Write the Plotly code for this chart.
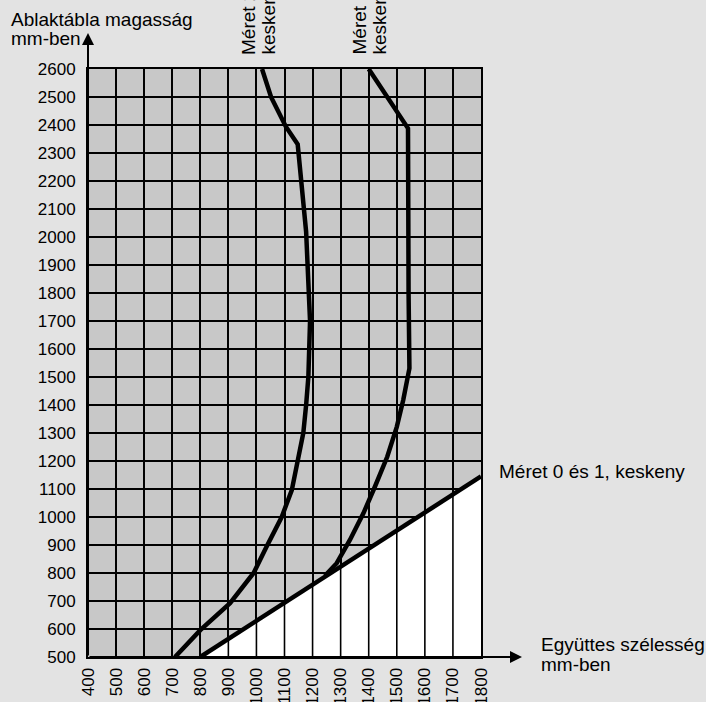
import numpy as np
import plotly.graph_objects as go

# ---- data ----
x_ticks = list(range(400, 1801, 100))
y_ticks = list(range(500, 2601, 100))

curve1_x = [710, 800, 906, 990, 1036, 1090, 1126, 1149, 1167, 1177, 1185, 1191, 1177, 1147, 1105, 1052, 1020]
curve1_y = [500, 596, 692, 800, 894, 1000, 1096, 1204, 1300, 1400, 1500, 1700, 2019, 2331, 2394, 2500, 2600]

curve2_x = [1244, 1286, 1333, 1381, 1422, 1466, 1500, 1523, 1545, 1542, 1540, 1400]
curve2_y = [790, 835, 918, 1013, 1108, 1215, 1322, 1418, 1531, 1800, 2388, 2600]

boundary_x = [800, 1800]
boundary_y = [500, 1145]

curve1_label = ["Méret 2,", "keskeny"]
curve2_label = ["Méret 3,", "keskeny"]
boundary_label = "Méret 0 és 1, keskeny"
y_title = ["Ablaktábla magasság", "mm-ben"]
x_title = ["Együttes szélesség", "mm-ben"]

# ---- layout geometry ----
W, H = 706, 702
L, R, T, B = 88, 225, 69, 45
PW, PH = W - L - R, H - T - B

def px(xp):
    return (xp - L) / PW

def py(yp):
    return (H - B - yp) / PH

FONT = "Liberation Sans, Arial, sans-serif"
GRAY = "#c8c8c8"
BG = "#e3e3e3"
FS = 19

fig = go.Figure()

# white region below boundary line
fig.add_trace(go.Scatter(
    x=boundary_x + [boundary_x[-1], boundary_x[0]],
    y=boundary_y + [y_ticks[0], y_ticks[0]],
    fill="toself", fillcolor="white", mode="lines",
    line=dict(width=0, color="white"), hoverinfo="skip", showlegend=False))

# vertical grid lines inside white region
vx, vy = [], []
for xv in x_ticks:
    if boundary_x[0] < xv < boundary_x[-1]:
        ytop = float(np.interp(xv, boundary_x, boundary_y))
        vx += [xv, xv, None]
        vy += [y_ticks[0], ytop, None]
fig.add_trace(go.Scatter(x=vx, y=vy, mode="lines",
                         line=dict(color="black", width=1.6),
                         hoverinfo="skip", showlegend=False))

# boundary line
fig.add_trace(go.Scatter(x=boundary_x, y=boundary_y, mode="lines",
                         line=dict(color="black", width=4.5),
                         showlegend=False, cliponaxis=False))
# curves
fig.add_trace(go.Scatter(x=curve1_x, y=curve1_y, mode="lines",
                         line=dict(color="black", width=4.5),
                         showlegend=False, cliponaxis=False))
fig.add_trace(go.Scatter(x=curve2_x, y=curve2_y, mode="lines",
                         line=dict(color="black", width=4.5),
                         showlegend=False, cliponaxis=False))

def txt(text, x, y, xanchor="left", yanchor="middle", angle=0):
    return dict(text=text, xref="paper", yref="paper", x=px(x), y=py(y),
                xanchor=xanchor, yanchor=yanchor, align="left", textangle=angle,
                showarrow=False, font=dict(size=FS, color="black", family=FONT))

annotations = [
    txt(y_title[0], 9, 19.5),
    txt(y_title[1], 9, 38.5),
    txt(x_title[0], 539, 644),
    txt(x_title[1], 539, 664),
    txt(boundary_label, 497, 471.5),
    txt(curve1_label[0], 249, 57, "center", "bottom", -90),
    txt(curve1_label[1], 268.5, 57, "center", "bottom", -90),
    txt(curve2_label[0], 359.5, 57, "center", "bottom", -90),
    txt(curve2_label[1], 379.5, 57, "center", "bottom", -90),
    # axis arrows
    dict(text="", xref="paper", yref="paper", x=0, y=py(33),
         ax=0, ay=PH + (T - 33), axref="pixel", ayref="pixel",
         showarrow=True, arrowhead=2, arrowsize=1.2, arrowwidth=2, arrowcolor="black"),
    dict(text="", xref="paper", yref="paper", x=px(522), y=0,
         ax=-(522 - L), ay=0, axref="pixel", ayref="pixel",
         showarrow=True, arrowhead=2, arrowsize=1.2, arrowwidth=2, arrowcolor="black"),
]

fig.update_layout(
    width=W, height=H,
    margin=dict(l=L, r=R, t=T, b=B, pad=0, autoexpand=False),
    paper_bgcolor=BG, plot_bgcolor=GRAY,
    font=dict(family=FONT, size=17, color="black"),
    annotations=annotations,
    showlegend=False,
)
fig.update_xaxes(
    range=[x_ticks[0], x_ticks[-1]], tickvals=x_ticks, ticktext=[str(v) for v in x_ticks],
    tickangle=-90, ticks="outside", ticklen=0, ticklabelstandoff=2, automargin=False,
    showgrid=True, gridcolor="black", gridwidth=1.6,
    showline=True, linecolor="black", linewidth=2, mirror=True,
    zeroline=False, tickfont=dict(size=17, family=FONT),
)
fig.update_yaxes(
    range=[y_ticks[0], y_ticks[-1]], tickvals=y_ticks, ticktext=[str(v) for v in y_ticks],
    ticks="outside", ticklen=0, ticklabelstandoff=7, automargin=False,
    showgrid=True, gridcolor="black", gridwidth=1.6,
    showline=True, linecolor="black", linewidth=2, mirror=True,
    zeroline=False, tickfont=dict(size=17, family=FONT),
)

fig.write_html("out.html", config={"displayModeBar": False},
               post_script="document.body.style.margin='0';document.body.style.overflow='hidden';")
